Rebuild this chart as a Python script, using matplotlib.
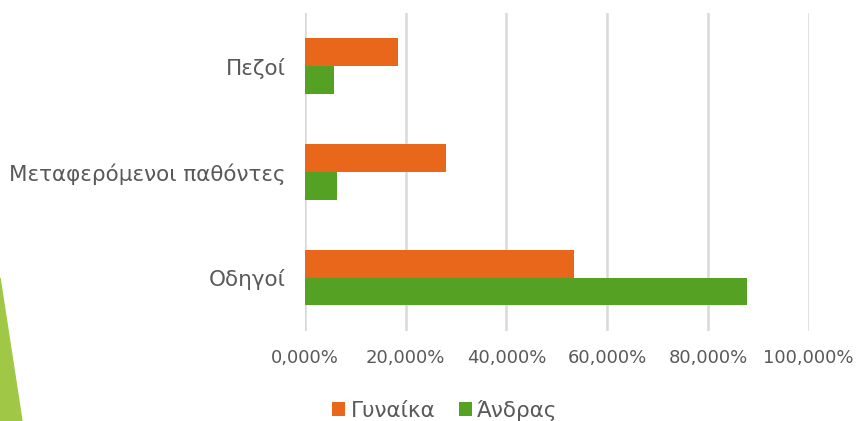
import numpy as np
import matplotlib.pyplot as plt
from matplotlib.patches import Polygon
from matplotlib.ticker import FuncFormatter

categories = ["Οδηγοί", "Μεταφερόμενοι παθόντες", "Πεζοί"]
women = [53.4, 28.0, 18.5]
men = [87.7, 6.3, 5.8]
series_names = ["Γυναίκα", "Άνδρας"]

orange = "#E8671A"
green = "#54A124"
text_col = "#595959"

plt.rcParams['font.family'] = ['DejaVu Sans']

fig = plt.figure(figsize=(8.64, 4.21), dpi=100)
ax = fig.add_axes([0.353, 0.214, 0.583, 0.755])

y = np.arange(len(categories))
h = 0.26
ax.barh(y + h / 2, women, height=h, color=orange, label=series_names[0], zorder=3)
ax.barh(y - h / 2, men, height=h, color=green, label=series_names[1], zorder=3)

ax.set_xlim(0, 100)
ax.set_ylim(-0.5, 2.5)
ax.set_xticks(np.arange(0, 101, 20))
ax.xaxis.set_major_formatter(FuncFormatter(lambda v, p: f"{v:.3f}%".replace(".", ",")))
ax.set_yticks(y)
ax.set_yticklabels(categories)
ax.grid(axis='x', color="#D9D9D9", linewidth=1.8, zorder=0)
for s in ax.spines.values():
    s.set_visible(False)
ax.tick_params(axis='both', length=0, colors=text_col)
ax.tick_params(axis='x', pad=13, labelsize=13)
ax.tick_params(axis='y', pad=14, labelsize=15.5)

leg = fig.legend(loc='lower center', bbox_to_anchor=(0.515, -0.045), ncol=2, frameon=False,
                 fontsize=15.5, handlelength=0.6, handleheight=0.6, handletextpad=0.25,
                 columnspacing=1.1)
for t in leg.get_texts():
    t.set_color(text_col)

# slide decoration at the lower left
fig.patches.append(Polygon([[0, 1 - 278 / 421], [22 / 864, 0], [0, 0]], closed=True,
                           transform=fig.transFigure, color="#A0C846", zorder=0))

fig.savefig("out.png", dpi=100)
